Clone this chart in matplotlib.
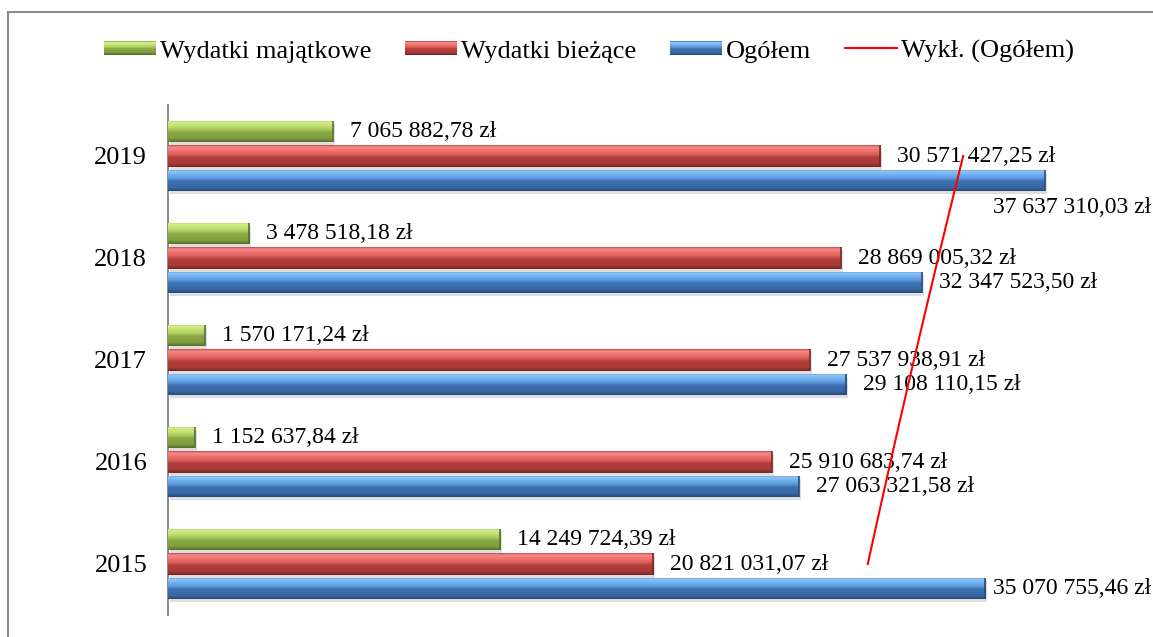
import numpy as np
import matplotlib
matplotlib.use("Agg")
import matplotlib.pyplot as plt
from matplotlib.patches import Rectangle
from matplotlib.legend_handler import HandlerBase
from matplotlib.lines import Line2D
from matplotlib.colors import to_rgb
import matplotlib.transforms as mtransforms

# ---- data ----
years = ["2015", "2016", "2017", "2018", "2019"]
wydatki_majatkowe = [14249724.39, 1152637.84, 1570171.24, 3478518.18, 7065882.78]
wydatki_biezace = [20821031.07, 25910683.74, 27537938.91, 28869005.32, 30571427.25]
ogolem = [35070755.46, 27063321.58, 29108110.15, 32347523.50, 37637310.03]
series_names = ["Wydatki majątkowe", "Wydatki bieżące", "Ogółem"]
trend_name = "Wykł. (Ogółem)"

plt.rcParams['font.family'] = ['Liberation Serif', 'DejaVu Serif']

W, H = 1153, 637
fig = plt.figure(figsize=(W / 100, H / 100), dpi=100)
ax = fig.add_axes([168 / W, 1 - 615 / H, (1100 - 168) / W, (615 - 105) / H])

base_cols = ["#9bbb59", "#c0504d", "#4f81bd"]
stop_pos = [0.0, 0.08, 0.25, 0.45, 0.55, 0.85, 1.0]
stop_cols = [
    ["#9cbf55", "#d2ef8c", "#c3e274", "#a6c65a", "#89a845", "#7d9b3d", "#56702a"],
    ["#c9504d", "#f58a87", "#ef7370", "#d65855", "#b43f3c", "#a63a37", "#742826"],
    ["#4f86c9", "#8cc6f7", "#74b0ee", "#5591d6", "#3e72b2", "#3867a3", "#274a76"],
]
edge_cols = ["#56702a", "#742826", "#274a76"]


def grad_array(idx, n=40):
    cols = np.array([to_rgb(c) for c in stop_cols[idx]])
    t = np.linspace(0, 1, n)
    arr = np.stack([np.interp(t, stop_pos, cols[:, k]) for k in range(3)], axis=1)
    return arr[:, None, :]


y = np.arange(len(years))
bh = 0.206
offs = [0.245, 0.0, -0.245]
data = [wydatki_majatkowe, wydatki_biezace, ogolem]

shadow_tr = mtransforms.offset_copy(ax.transData, fig=fig, x=2, y=-3, units='dots')
labels = []
for idx, (vals, off, col) in enumerate(zip(data, offs, base_cols)):
    ax.barh(y + off, vals, height=bh, color="#000000", alpha=0.13,
            transform=shadow_tr, zorder=1, linewidth=0)
    bars = ax.barh(y + off, vals, height=bh, color=col, zorder=2, linewidth=0)
    g = grad_array(idx)
    for b, v in zip(bars, vals):
        bb = b.get_bbox()
        im = ax.imshow(g, extent=[bb.x0, bb.x1, bb.y0, bb.y1], aspect='auto',
                       origin='upper', zorder=3, interpolation='bilinear')
        im.set_clip_path(b)
        ax.plot([bb.x1, bb.x1], [bb.y0, bb.y1], color=edge_cols[idx],
                lw=1.2, zorder=4, solid_capstyle='butt')
        txt = f"{v:,.2f}".replace(",", " ").replace(".", ",") + " zł"
        ann = ax.annotate(txt, xy=(v, bb.y0 + bh / 2), xytext=(17, 0),
                          textcoords='offset pixels', ha='left', va='center',
                          fontsize=17, color='black', zorder=6, annotation_clip=False)
        labels.append((ann, v, bb))

# exponential trendline of Ogółem
t = np.arange(1, len(years) + 1)
coef = np.polyfit(t, np.log(ogolem), 1)
tt = np.linspace(1, len(years), 100)
trend = np.exp(np.polyval(coef, tt))
ax.plot(trend, tt - 1, color="#ff0000", lw=1.5, zorder=7)

ax.set_xlim(0, 40e6)
ax.set_ylim(-0.5, len(years) - 0.5)
ax.set_yticks(y)
ax.set_yticklabels(years, fontsize=19)
ax.tick_params(axis='y', length=0, pad=15)
ax.set_xticks([])
for s in ['top', 'right', 'bottom']:
    ax.spines[s].set_visible(False)
ax.spines['left'].set_color("#8c8c8c")
ax.spines['left'].set_linewidth(1.5)
ax.patch.set_visible(False)

# reposition labels that go past the right edge
fig.canvas.draw()
r = fig.canvas.get_renderer()
for ann, v, bb in labels:
    ext = ann.get_window_extent(r)
    if ext.x1 > W - 2:
        dx = (W - 2) - ext.x1
        bar_end = ax.transData.transform((v, 0))[0]
        newx0 = ext.x0 + dx
        dy = 0
        if newx0 < bar_end + 4:
            dy = -27
        ann.xyann = (17 + dx, dy)


class GradHandler(HandlerBase):
    def __init__(self, idx):
        super().__init__()
        self.idx = idx

    def create_artists(self, legend, orig_handle, xdescent, ydescent, width, height, fontsize, trans):
        arts = []
        g = grad_array(self.idx, n=14)[:, 0, :]
        hh = height * 0.75
        y0 = -ydescent + (height - hh) / 2
        n = len(g)
        for i, c in enumerate(g):
            yy = y0 + hh - (i + 1) * hh / n
            arts.append(Rectangle((-xdescent, yy), width, hh / n + 0.3, facecolor=c,
                                  edgecolor='none', transform=trans))
        return arts


handles = [Rectangle((0, 0), 1, 1) for _ in range(3)]
line_h = Line2D([], [], color="#ff0000", lw=1.5)
handler_map = {handles[i]: GradHandler(i) for i in range(3)}
leg = fig.legend(handles + [line_h], series_names + [trend_name], loc='center',
                 bbox_to_anchor=(589 / W, 1 - 51 / H), ncol=4, frameon=False,
                 fontsize=19, handlelength=1.95, handleheight=0.7, handletextpad=0.15,
                 columnspacing=1.3, handler_map=handler_map)

fig.add_artist(Rectangle((8 / W, -0.05), 1.1, 1 - 12 / H + 0.05, transform=fig.transFigure,
                         fill=False, edgecolor="#8a8a8a", lw=1.5))

fig.savefig("out.png", dpi=100)
